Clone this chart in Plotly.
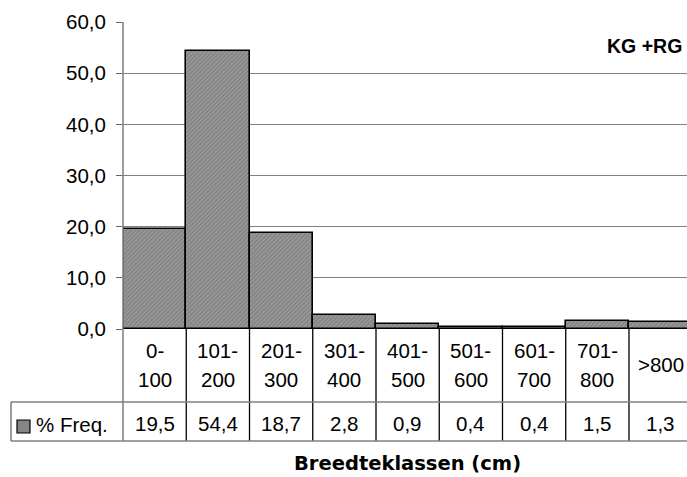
import plotly.graph_objects as go

# Width classes (cm) and relative frequency (%)
categories = ["0-<br>100", "101-<br>200", "201-<br>300", "301-<br>400", "401-<br>500",
              "501-<br>600", "601-<br>700", "701-<br>800", ">800"]
freq = [19.5, 54.4, 18.7, 2.8, 0.9, 0.4, 0.4, 1.5, 1.3]
series_name = "% Freq."
x_title = "Breedteklassen (cm)"
panel_label = "KG +RG"
y_ticks = [0, 10, 20, 30, 40, 50, 60]

W, H = 687, 477
L, R, T, B = 123, 0, 22, 148
PW, PH = W - L - R, H - T - B
CAT_W = 63.25                      # pixel width of one class column
XSPAN = PW / CAT_W                 # visible number of columns
FONT = "Liberation Sans, Arial, sans-serif"
FS = 20.5


def xp(px):
    return (px - L) / PW


def yp(py):
    return (H - B - py) / PH


def fmt(v):
    return f"{v:.1f}".replace(".", ",")


fig = go.Figure()
fig.add_trace(go.Bar(
    x=list(range(len(categories))), y=freq, name=series_name, width=1.0,
    marker=dict(color="#808080", line=dict(color="black", width=1.6),
                pattern=dict(shape="/", fgcolor="#676767", bgcolor="#9a9a9a",
                             size=3, solidity=0.5)),
    showlegend=False, hoverinfo="skip",
))

shapes = []
row1_bottom, row2_bottom = 402, 441
# y-axis line running down through the table
shapes.append(dict(type="line", xref="paper", yref="paper", x0=0, x1=0,
                   y0=1, y1=yp(row2_bottom), line=dict(color="#666666", width=1.3)))
# column separators
for i in range(1, len(categories)):
    xx = i / XSPAN
    shapes.append(dict(type="line", xref="paper", yref="paper", x0=xx, x1=xx,
                       y0=0, y1=yp(row2_bottom), line=dict(color="black", width=1.3)))
# table horizontal rules and left border of the value row
for yy in (row1_bottom, row2_bottom):
    shapes.append(dict(type="line", xref="paper", yref="paper", x0=xp(11), x1=1,
                       y0=yp(yy), y1=yp(yy), line=dict(color="#808080", width=1.5)))
shapes.append(dict(type="line", xref="paper", yref="paper", x0=xp(11), x1=xp(11),
                   y0=yp(row1_bottom), y1=yp(row2_bottom), line=dict(color="#666666", width=1.3)))
# legend key square
shapes.append(dict(type="rect", xref="paper", yref="paper", x0=xp(17), x1=xp(30),
                   y0=yp(433), y1=yp(420), fillcolor="#858585",
                   line=dict(color="black", width=1.2)))

annotations = []
for i, (cat, v) in enumerate(zip(categories, freq)):
    xc = (i + 0.5) / XSPAN
    lines = cat.split("<br>")
    if len(lines) == 2:
        ys = [350, 379]
    else:
        ys = [364]
    for txt, yy in zip(lines, ys):
        annotations.append(dict(xref="paper", yref="paper", x=xc, y=yp(yy), text=txt,
                                showarrow=False, xanchor="center", yanchor="middle",
                                font=dict(family=FONT, size=FS, color="black")))
    annotations.append(dict(xref="paper", yref="paper", x=xc, y=yp(423), text=fmt(v),
                            showarrow=False, xanchor="center", yanchor="middle",
                            font=dict(family=FONT, size=FS, color="black")))
annotations.append(dict(xref="paper", yref="paper", x=xp(34), y=yp(424), text=series_name,
                        showarrow=False, xanchor="left", yanchor="middle",
                        font=dict(family=FONT, size=FS, color="black")))
annotations.append(dict(xref="paper", yref="paper", x=xp(407), y=yp(463), text=f"<b>{x_title}</b>",
                        showarrow=False, xanchor="center", yanchor="middle",
                        font=dict(family="DejaVu Sans, sans-serif", size=19.5, color="black")))
annotations.append(dict(xref="paper", yref="paper", x=xp(684), y=yp(46), text=f"<b>{panel_label}</b>",
                        showarrow=False, xanchor="right", yanchor="middle",
                        font=dict(family=FONT, size=19.5, color="black")))

fig.update_layout(
    width=W, height=H, margin=dict(l=L, r=R, t=T, b=B, pad=0),
    paper_bgcolor="white", plot_bgcolor="white", separators=",.",
    bargap=0, shapes=shapes, annotations=annotations,
    font=dict(family=FONT, size=FS, color="black"),
    xaxis=dict(range=[-0.5, -0.5 + XSPAN], showticklabels=False, showgrid=False,
               zeroline=False, showline=False, ticks="", fixedrange=True),
    yaxis=dict(range=[0, 60], tickvals=y_ticks, tickformat=".1f", showgrid=True,
               gridcolor="#808080", gridwidth=1.2, zeroline=False, showline=False,
               ticks="outside", ticklen=6, tickcolor="#666666", tickwidth=1.3,
               ticklabelstandoff=6,
               tickfont=dict(family=FONT, size=FS, color="black"), fixedrange=True),
)

fig.write_html("out.html")
